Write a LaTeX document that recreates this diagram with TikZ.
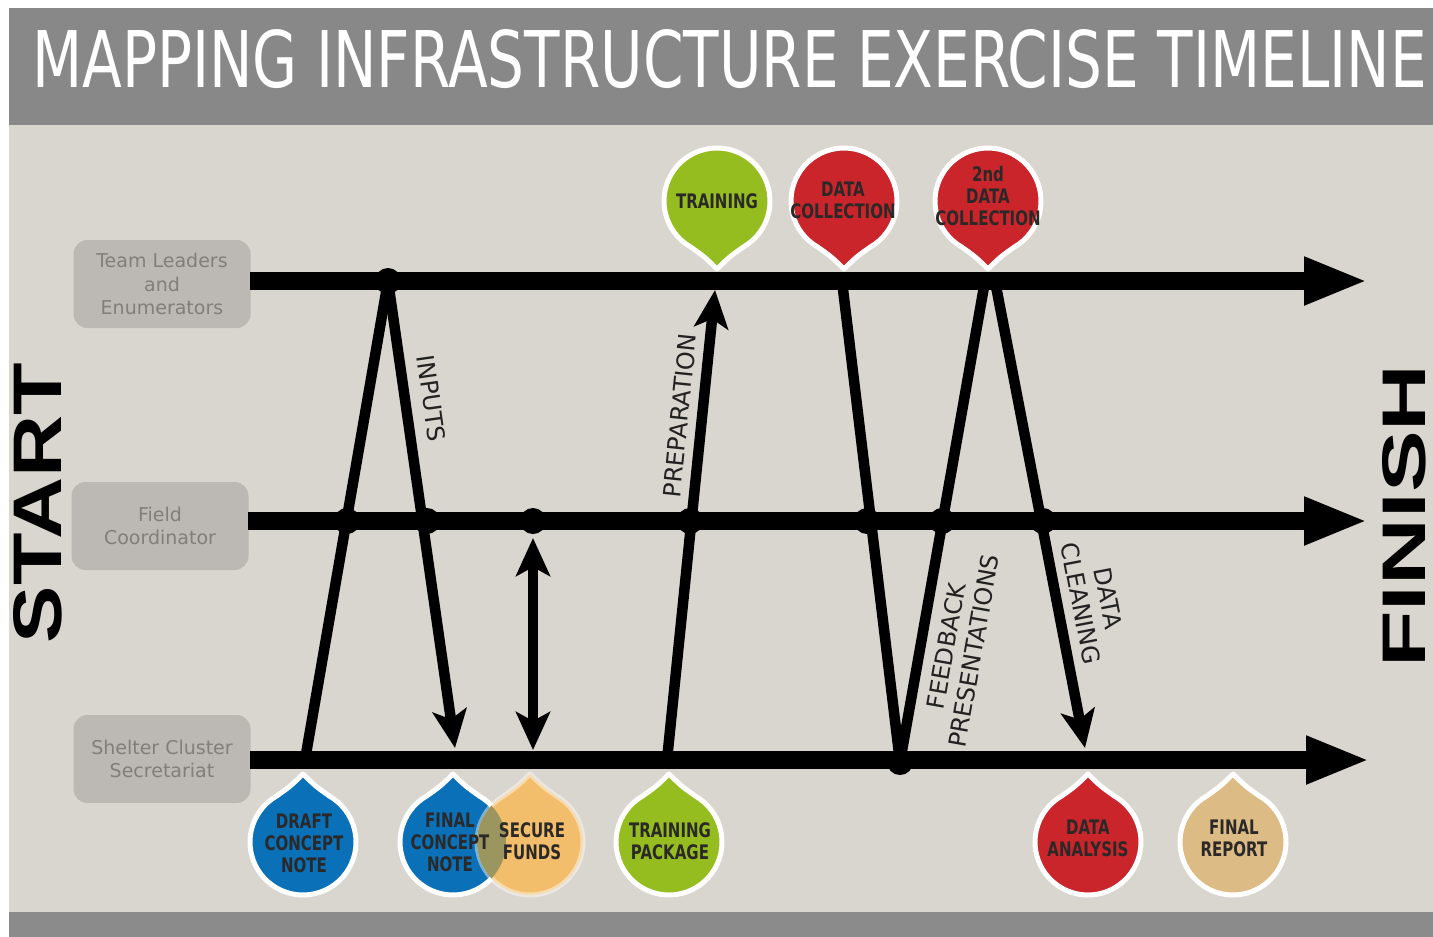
\documentclass[tikz,border=0pt]{standalone}
\usepackage{fontspec}
\usepackage{graphicx}
\usetikzlibrary{arrows.meta,calc}
\newfontfamily\titlefont{DejaVu Sans}
\newfontfamily\heavysans{Liberation Sans}
\newfontfamily\pinfont[FakeStretch=0.75]{DejaVu Sans}
\newfontfamily\labelfont{DejaVu Sans}
\definecolor{bgbeige}{HTML}{D9D5CF}
\definecolor{titlegray}{HTML}{888888}
\definecolor{bandgray}{HTML}{8B8B8B}
\definecolor{boxgray}{HTML}{BCB9B4}
\definecolor{boxtext}{HTML}{827F7B}
\definecolor{pinblue}{HTML}{0A70B8}
\definecolor{pinred}{HTML}{C9252B}
\definecolor{pingreen}{HTML}{95BD1F}
\definecolor{pinorange}{HTML}{F2BE6B}
\definecolor{pintan}{HTML}{DDBB84}
\definecolor{pinolive}{HTML}{9B965F}
\definecolor{pintextcol}{HTML}{2B2828}
\definecolor{labelcol}{HTML}{222222}
\newcommand{\pinshape}[4][]{%
  \fill[#4, draw=white, line width=5pt, line join=round, #1]
    ($(#2)+(#3+30:53)$) arc[start angle=#3+30, end angle=#3+330, radius=53]
    .. controls ($(#2)+(#3-13:57)$) .. ($(#2)+(#3:68)$)
    .. controls ($(#2)+(#3+13:57)$) .. cycle;}
\begin{document}
\begin{tikzpicture}[x=1pt,y=-1pt,
  mainline/.style={line width=18pt, -{Triangle[length=64pt,width=44pt]}},
  conn/.style={line width=10.5pt},
  headtip/.style={-{Stealth[length=38pt,width=34pt,inset=9pt]}},
  bothtips/.style={{Stealth[length=38pt,width=34pt,inset=9pt]}-{Stealth[length=38pt,width=34pt,inset=9pt]}},
  jdot/.style={circle, fill=black, inner sep=0pt, minimum size=26pt},
  rolebox/.style={rounded corners=14pt, fill=boxgray, text=boxtext, minimum width=177pt,
    minimum height=88pt, align=center, inner sep=0pt,
    font=\labelfont\fontsize{19}{23.5}\selectfont},
  pintext/.style={align=center, text=pintextcol, inner sep=0pt,
    font=\pinfont\bfseries\fontsize{20}{22}\selectfont},
  lbl/.style={text=labelcol, align=center, sloped, inner xsep=0pt,
    font=\labelfont\fontsize{24}{28}\selectfont}
]
\useasboundingbox (0,0) rectangle (1433,937);
% background
\fill[white] (0,0) rectangle (1433,937);
\fill[bgbeige] (9,125) rectangle (1433,912);
\fill[titlegray] (9,8) rectangle (1433,125);
\fill[bandgray] (9,912) rectangle (1433,937);
% title
\node[anchor=base west, inner sep=0pt, text=white] (title) at (32,87)
  {\resizebox{1394pt}{58pt}{\titlefont MAPPING INFRASTRUCTURE EXERCISE TIMELINE}};
% start / finish
\node[rotate=90, inner sep=0pt] (start) at (38,503)
  {\resizebox{280pt}{48pt}{\heavysans\bfseries START}};
\node[rotate=90, inner sep=0pt] (finish) at (1404,516)
  {\resizebox{303pt}{43pt}{\heavysans\bfseries FINISH}};
% role boxes
\node[rolebox] (tl) at (162,284) {Team Leaders\\and\\Enumerators};
\node[rolebox] (fc) at (160,526) {Field\\Coordinator};
\node[rolebox] (sc) at (162,759) {Shelter Cluster\\Secretariat};
% main lines
\coordinate (s1) at (250,281); \coordinate (e1) at (1368,281);
\coordinate (s2) at (248,521); \coordinate (e2) at (1368,521);
\coordinate (s3) at (250,760); \coordinate (e3) at (1370,760);
\draw[mainline] (s1) -- (e1);
\draw[mainline] (s2) -- (e2);
\draw[mainline] (s3) -- (e3);
% junction coordinates
\coordinate (jT) at (388,281);
\coordinate (jB) at (900,762);
\coordinate (b1) at (305,760);
\coordinate (aIn) at (455,748);
\coordinate (dbTop) at (533,538);
\coordinate (dbBot) at (533,750);
\coordinate (b4) at (667,760);
\coordinate (aPrep) at (715,290);
\coordinate (t5) at (842,281);
\coordinate (t6) at (985,281);
\coordinate (t7) at (995,281);
\coordinate (aClean) at (1085,748);
% connectors
\draw[conn] (b1) -- (jT);
\draw[conn, headtip] (jT) -- node[lbl, pos=0.26, anchor=south, inner ysep=12pt] (inputs) {INPUTS} (aIn);
\draw[conn, bothtips] (dbTop) -- (dbBot);
\draw[conn, headtip] (b4) -- node[lbl, pos=0.728, anchor=south, inner ysep=8pt] (prep) {PREPARATION} (aPrep);
\draw[conn] (t5) -- (jB);
\draw[conn] (jB) -- node[lbl, pos=0.25, anchor=north, inner ysep=11pt] (feedback) {FEEDBACK\\PRESENTATIONS} (t6);
\draw[conn, headtip] (t7) -- node[lbl, pos=0.7, anchor=south, inner ysep=9pt] (clean) {DATA\\CLEANING} (aClean);
% junction dots
\node[jdot] (dT1) at (jT) {};
\node[jdot] (dM1) at (347,521) {};
\node[jdot] (dM2) at (427,521) {};
\node[jdot] (dM3) at (533,521) {};
\node[jdot] (dM4) at (690,521) {};
\node[jdot] (dM5) at (867,521) {};
\node[jdot] (dM6) at (942,521) {};
\node[jdot] (dM7) at (1043,521) {};
\node[jdot] (dB1) at (jB) {};
% pins: top (tip down = angle 90 in these coordinates)
\coordinate (pTrain) at (717,201);
\coordinate (pColl) at (844,201);
\coordinate (pColl2) at (988,201);
\pinshape{pTrain}{90}{pingreen}
\pinshape{pColl}{90}{pinred}
\pinshape{pColl2}{90}{pinred}
% pins: bottom (tip up = angle -90)
\coordinate (pDraft) at (303,842);
\coordinate (pFinal) at (453,842);
\coordinate (pSecure) at (530,842);
\coordinate (pPack) at (669,842);
\coordinate (pAnal) at (1088,842);
\coordinate (pRep) at (1233,842);
\pinshape{pDraft}{-90}{pinblue}
\pinshape{pFinal}{-90}{pinblue}
\pinshape[draw opacity=0.45]{pSecure}{-90}{pinorange}
\begin{scope}
  \clip (pFinal) circle[radius=53];
  \fill[pinolive] (pSecure) circle[radius=53];
\end{scope}
\pinshape{pPack}{-90}{pingreen}
\pinshape{pAnal}{-90}{pinred}
\pinshape{pRep}{-90}{pintan}
% pin texts
\node[pintext] (tTrain) at (717,201) {TRAINING};
\node[pintext] (tColl) at (843,200) {DATA\\COLLECTION};
\node[pintext] (tColl2) at (988,196) {2nd\\DATA\\COLLECTION};
\node[pintext] (tDraft) at (304,843) {DRAFT\\CONCEPT\\NOTE};
\node[pintext] (tFinal) at (450,842) {FINAL\\CONCEPT\\NOTE};
\node[pintext] (tSecure) at (532,841) {SECURE\\FUNDS};
\node[pintext] (tPack) at (670,841) {TRAINING\\PACKAGE};
\node[pintext] (tAnal) at (1088,838) {DATA\\ANALYSIS};
\node[pintext] (tRep) at (1234,838) {FINAL\\REPORT};
\end{tikzpicture}
\end{document}
